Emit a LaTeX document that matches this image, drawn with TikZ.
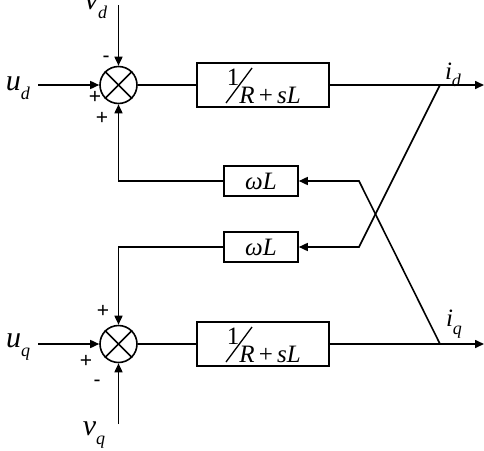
\documentclass[tikz,border=0pt]{standalone}
\usepackage{fontspec}
\setmainfont{Liberation Serif}
\newfontfamily\signfont{Liberation Sans}
\usetikzlibrary{arrows.meta}
\tikzset{
  ln/.style={line width=1.6pt},
  arr/.style={ln,-{Triangle[length=9pt,width=8pt]}},
  summer/.style={circle,draw,line width=1.6pt,minimum size=37pt,inner sep=0pt},
  blk/.style={rectangle,draw,line width=1.6pt,minimum width=132pt,minimum height=44pt,inner sep=0pt},
  wblk/.style={rectangle,draw,line width=1.6pt,minimum width=74pt,minimum height=30pt,inner sep=0pt,font=\fontsize{25}{26}\selectfont},
  var/.style={inner sep=0pt,font=\fontsize{30}{30}\selectfont},
  ovar/.style={inner sep=0pt,font=\fontsize{25}{26}\selectfont},
  sgn/.style={inner sep=0pt,font=\signfont\fontsize{21}{21}\selectfont},
  ftxt/.style={inner sep=0pt,font=\fontsize{25}{26}\selectfont}
}
\newcommand{\vsub}[2]{\textit{#1}\raisebox{-0.3em}{\fontsize{18}{18}\selectfont\textit{#2}}}
\begin{document}
\begin{tikzpicture}[x=1pt,y=-1pt]
\useasboundingbox (0,0) rectangle (484,450);
% summers
\node[summer] (sumd) at (118.5,85) {};
\node[summer] (sumq) at (118.5,344) {};
\foreach \s in {sumd,sumq}{
  \draw[ln] (\s.45) -- (\s.225);
  \draw[ln] (\s.135) -- (\s.315);
}
% blocks
\node[blk] (blkd) at (263,85) {};
\node[blk] (blkq) at (263,344) {};
\foreach \b in {blkd,blkq}{
  \node[ftxt] (\b one) at ([shift={(-30,-8)}]\b.center) {1};
  \draw[line width=1.3pt] ([shift={(-37,18)}]\b.center) -- ([shift={(-11,-17)}]\b.center);
  \node[ftxt] (\b den) at ([shift={(7,10)}]\b.center) {\textit{R}\,+\,\textit{sL}};
}
\node[wblk] (wl1) at (261,181) {\textit{ωL}};
\node[wblk] (wl2) at (261,247) {\textit{ωL}};
% coordinates
\coordinate (vdtop) at (118.5,5);
\coordinate (udin) at (38,85);
\coordinate (uqin) at (38,344);
\coordinate (vqbot) at (118.5,424);
\coordinate (brd) at (440,85);
\coordinate (brq) at (440,344);
\coordinate (outd) at (484,85);
\coordinate (outq) at (484,344);
\coordinate (k1) at (359,181);
\coordinate (k2) at (359,247);
\coordinate (c1) at (118.5,181);
\coordinate (c2) at (118.5,247);
% connections
\draw[arr] (vdtop) -- (sumd.north);
\draw[arr] (udin) -- (sumd.west);
\draw[ln] (sumd.east) -- (blkd.west);
\draw[arr] (blkd.east) -- (outd);
\draw[arr] (uqin) -- (sumq.west);
\draw[arr] (vqbot) -- (sumq.south);
\draw[ln] (sumq.east) -- (blkq.west);
\draw[arr] (blkq.east) -- (outq);
\draw[arr] (brd) -- (k2) -- (wl2.east);
\draw[arr] (brq) -- (k1) -- (wl1.east);
\draw[arr] (wl1.west) -- (c1) -- (sumd.south);
\draw[arr] (wl2.west) -- (c2) -- (sumq.north);
% labels
\node[var] (lvd) at (96,7) {\vsub{v}{d}};
\node[var] (lud) at (18,88) {\vsub{u}{d}};
\node[var] (luq) at (18,347) {\vsub{u}{q}};
\node[var] (lvq) at (94,435) {\vsub{v}{q}};
\node[ovar] (lid) at (453,75) {\vsub{i}{d}};
\node[ovar] (liq) at (454,324) {\vsub{i}{q}};
% signs
\node[sgn] (s1) at (106,59) {-};
\node[sgn] (s2) at (95,97) {+};
\node[sgn] (s3) at (102,118) {+};
\node[sgn] (s4) at (103,311) {+};
\node[sgn] (s5) at (86,361) {+};
\node[sgn] (s6) at (97,383) {-};
\end{tikzpicture}
\end{document}
